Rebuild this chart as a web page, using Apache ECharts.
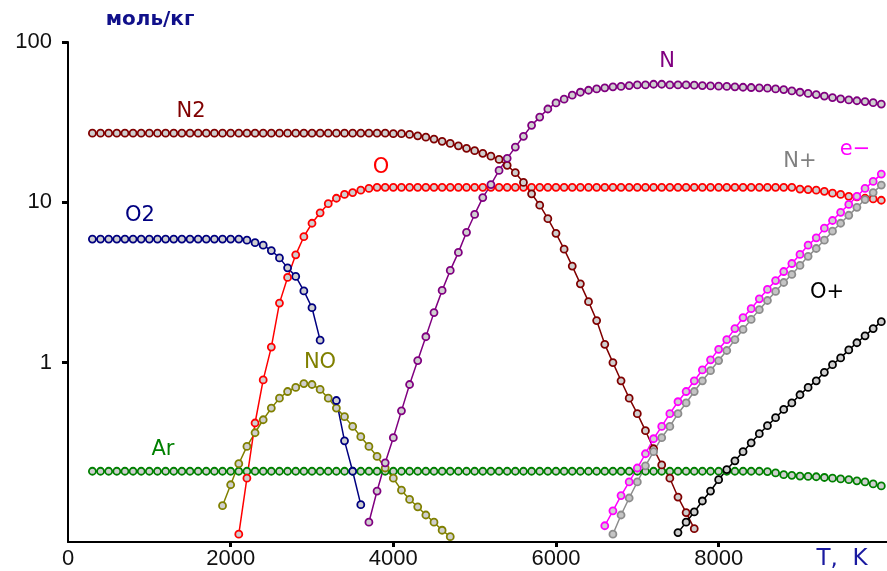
<!DOCTYPE html>
<html>
<head>
<meta charset="utf-8">
<script src="https://cdn.jsdelivr.net/npm/echarts@6/dist/echarts.min.js"></script>
<style>
  html, body { margin: 0; padding: 0; background: #fff; }
  #chart { width: 887px; height: 571px; }
</style>
</head>
<body>
<div id="chart"></div>
<script>
// шаг по температуре между точками, K
var STEP = 100;

// N2
var n2Start = 300;
var n2 = [
  27, 27, 27, 27, 27, 27, 27, 27, 27, 27,
  27, 27, 27, 27, 27, 27, 27, 27, 27, 27,
  27, 27, 27, 27, 27, 27, 27, 27, 27, 27,
  27, 27, 27, 27, 27, 27, 27, 26.8, 26.8,
  26.5, 26, 25.5, 24.8, 24, 23.3, 22.5, 21.7, 21, 20.2,
  19.4, 18.5, 17, 15.3, 13.3, 11.3, 9.6, 7.9, 6.4, 5.1,
  4.0, 3.1, 2.4, 1.83, 1.3, 1.0, 0.77, 0.6, 0.48, 0.376,
  0.29, 0.23, 0.19, 0.145, 0.116, 0.092
];

// O2 (разрыв на 3200 K)
var o2Start = 300;
var o2 = [
  5.9, 5.9, 5.9, 5.9, 5.9, 5.9, 5.9, 5.9, 5.9, 5.9,
  5.9, 5.9, 5.9, 5.9, 5.9, 5.9, 5.9, 5.9, 5.9,
  5.8, 5.6, 5.4, 5.0, 4.5, 3.9, 3.45, 2.8, 2.2, 1.38,
  null, 0.58, 0.325, 0.21, 0.13
];

// O
var oStart = 2100;
var o = [
  0.085, 0.19, 0.42, 0.78, 1.25, 2.35, 3.4, 4.7, 6.1, 7.4,
  8.6, 9.8, 10.6, 11.2, 11.5, 11.9, 12.2,
  12.4, 12.4, 12.4, 12.4, 12.4, 12.4, 12.4, 12.4, 12.4, 12.4,
  12.4, 12.4, 12.4, 12.4, 12.4, 12.4, 12.4, 12.4, 12.4, 12.4,
  12.4, 12.4, 12.4, 12.4, 12.4, 12.4, 12.4, 12.4, 12.4, 12.4,
  12.4, 12.4, 12.4, 12.4, 12.4, 12.4, 12.4, 12.4, 12.4, 12.4,
  12.4, 12.4, 12.4, 12.4, 12.4, 12.4, 12.4, 12.4, 12.4, 12.4,
  12.4, 12.4,
  12.1, 12.0, 11.9, 11.7, 11.4, 11.2, 10.9, 10.8, 10.6, 10.5, 10.3
];

// N
var nStart = 3700;
var n = [
  0.101, 0.158, 0.237, 0.34, 0.50, 0.73, 1.03, 1.45, 2.05, 2.82,
  3.76, 4.87, 6.5, 8.4, 10.7, 12.9, 15.8, 18.8, 22.1, 25.8,
  30.2, 34, 38.2, 41.7, 44, 46.6, 48.6, 50, 51, 51.8,
  52.5, 52.8, 53.5, 54, 54, 54.5, 54.5, 54, 54, 54,
  53.8, 53.5, 53.2, 53, 52.8, 52.5, 52.2, 52, 51.8, 51.5,
  51, 50.5, 49.5, 48.6, 47.8, 47, 46, 45, 44.2, 43.5,
  43, 42.5, 41.8, 41
];

// NO
var noStart = 1900;
var no = [
  0.128, 0.173, 0.234, 0.30, 0.365, 0.44, 0.52, 0.60, 0.66, 0.70,
  0.74, 0.73, 0.68, 0.60, 0.52, 0.46, 0.40, 0.345, 0.30, 0.26,
  0.22, 0.19, 0.16, 0.14, 0.126, 0.112, 0.101, 0.09, 0.082
];

// Ar
var arStart = 300;
var ar = [
  0.21, 0.21, 0.21, 0.21, 0.21, 0.21, 0.21, 0.21, 0.21, 0.21,
  0.21, 0.21, 0.21, 0.21, 0.21, 0.21, 0.21, 0.21, 0.21, 0.21,
  0.21, 0.21, 0.21, 0.21, 0.21, 0.21, 0.21, 0.21, 0.21, 0.21,
  0.21, 0.21, 0.21, 0.21, 0.21, 0.21, 0.21, 0.21, 0.21, 0.21,
  0.21, 0.21, 0.21, 0.21, 0.21, 0.21, 0.21, 0.21, 0.21, 0.21,
  0.21, 0.21, 0.21, 0.21, 0.21, 0.21, 0.21, 0.21, 0.21, 0.21,
  0.21, 0.21, 0.21, 0.21, 0.21, 0.21, 0.21, 0.21, 0.21, 0.21,
  0.21, 0.21, 0.21, 0.21, 0.21, 0.21, 0.21, 0.21, 0.21, 0.21,
  0.21, 0.21, 0.21,
  0.209, 0.205, 0.2, 0.198, 0.196, 0.195, 0.194, 0.192, 0.19, 0.188,
  0.186, 0.183, 0.18, 0.175, 0.17
];

// N+
var nPlusStart = 6700;
var nPlus = [
  0.085, 0.112, 0.143, 0.18, 0.227, 0.278, 0.34, 0.40, 0.48, 0.56,
  0.66, 0.77, 0.89, 1.03, 1.19, 1.39, 1.61, 1.86, 2.14, 2.44,
  2.78, 3.16, 3.55, 4.04, 4.6, 5.15, 5.8, 6.6, 7.4, 8.3,
  9.3, 10.4, 11.5, 12.8
];

// e-
var eStart = 6600;
var eMinus = [
  0.096, 0.119, 0.148, 0.18, 0.22, 0.27, 0.335, 0.40, 0.48, 0.57,
  0.66, 0.77, 0.90, 1.04, 1.21, 1.39, 1.63, 1.91, 2.17, 2.5,
  2.86, 3.25, 3.7, 4.15, 4.73, 5.4, 6.0, 6.9, 7.7, 8.66,
  9.7, 10.9, 12.2, 13.5, 15
];

// O+
var oPlusStart = 7500;
var oPlus = [
  0.087, 0.101, 0.117, 0.137, 0.158, 0.186, 0.215, 0.244, 0.278, 0.316,
  0.36, 0.404, 0.453, 0.51, 0.56, 0.63, 0.70, 0.77, 0.87, 0.97,
  1.07, 1.2, 1.33, 1.47, 1.63, 1.8
];

var xTicks = [0, 2000, 4000, 6000, 8000];
var xTickMarks = [2000, 4000, 6000, 8000];
var yTicks = [1, 10, 100];

var FONT = 'Liberation Sans';

function toPairs(start, vals) {
  return vals.map(function (v, i) { return [start + i * STEP, v]; });
}

function makeSeries(name, color, start, vals, fill) {
  return {
    name: name,
    type: 'line',
    data: toPairs(start, vals),
    symbol: 'circle',
    symbolSize: 7,
    connectNulls: false,
    clip: true,
    lineStyle: { color: color, width: 1.5 },
    itemStyle: { color: fill || '#cfcfcf', borderColor: color, borderWidth: 1.8 },
    emphasis: { disabled: true }
  };
}

function label(text, x, y, color) {
  return {
    type: 'text',
    x: x, y: y,
    style: {
      text: text, fill: color,
      font: '21px "DejaVu Sans"',
      align: 'center', verticalAlign: 'middle'
    }
  };
}

var myChart = echarts.init(document.getElementById('chart'));

var option = {
  animation: false,
  backgroundColor: '#fff',
  grid: { left: 68, right: 0, top: 42, bottom: 29, outerBoundsMode: 'none' },
  xAxis: {
    type: 'value',
    min: 0,
    max: 10070,
    interval: 2000,
    axisLine: { onZero: false, lineStyle: { color: '#000', width: 2 } },
    axisTick: { show: true, inside: false, length: 5, customValues: xTickMarks, lineStyle: { color: '#000', width: 3 } },
    axisLabel: {
      customValues: xTicks, color: '#111', fontFamily: FONT, fontSize: 22, margin: 6,
      formatter: function (v) { return String(v); }
    },
    splitLine: { show: false }
  },
  yAxis: {
    type: 'log',
    logBase: 10,
    min: 0.076,
    max: 100,
    axisLine: { lineStyle: { color: '#000', width: 2 } },
    axisTick: { show: true, inside: false, length: 6, customValues: yTicks, lineStyle: { color: '#000', width: 3 } },
    axisLabel: {
      customValues: yTicks, color: '#111', fontFamily: FONT, fontSize: 22, margin: 16,
      formatter: function (v) { return String(v); }
    },
    splitLine: { show: false }
  },
  series: [
    makeSeries('Ar', '#008000', arStart, ar),
    makeSeries('NO', '#808000', noStart, no),
    makeSeries('O2', '#000080', o2Start, o2),
    makeSeries('O', '#ff0000', oStart, o),
    makeSeries('N2', '#800000', n2Start, n2),
    makeSeries('N', '#800080', nStart, n),
    makeSeries('N+', '#8c8c8c', nPlusStart, nPlus, '#c4c4c4'),
    makeSeries('e-', '#ff00ff', eStart, eMinus),
    makeSeries('O+', '#000000', oPlusStart, oPlus)
  ],
  graphic: [
    {
      type: 'text', x: 150, y: 20,
      style: { text: 'моль/кг', fill: '#10108a', font: 'bold 20px "DejaVu Sans"', align: 'center', verticalAlign: 'middle' }
    },
    {
      type: 'text', x: 842, y: 559,
      style: { text: 'T,  K', fill: '#1a1aa0', font: '23px "DejaVu Sans"', align: 'center', verticalAlign: 'middle' }
    },
    label('N2', 191, 112, '#800000'),
    label('O2', 140, 216, '#000080'),
    label('O', 381, 168, '#ff0000'),
    label('N', 667, 62, '#800080'),
    label('N+', 800, 162, '#808080'),
    label('e\u2212', 855, 150, '#ff00ff'),
    label('O+', 827, 293, '#000000'),
    label('NO', 320, 363, '#808000'),
    label('Ar', 163, 450, '#008000')
  ]
};

myChart.setOption(option);
</script>
</body>
</html>
